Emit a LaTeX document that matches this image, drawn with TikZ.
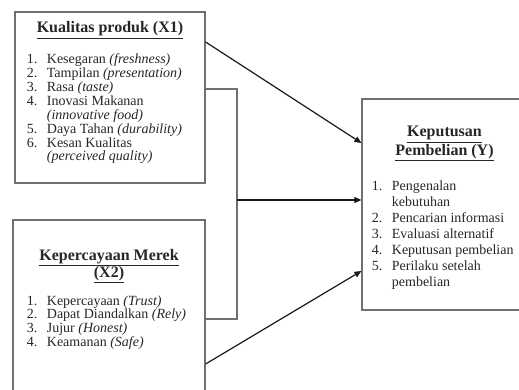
\documentclass[tikz,border=0pt]{standalone}
\usepackage{fontspec}
\setmainfont{Liberation Serif}
\usetikzlibrary{arrows.meta}
\definecolor{boxgray}{HTML}{707070}
\definecolor{txt}{HTML}{262626}
\newcommand{\num}[1]{\makebox[20pt][l]{#1}}
\tikzset{
  box/.style={draw=boxgray, line width=1.2pt, inner sep=0pt},
  link/.style={draw=boxgray, line width=1.2pt},
  arr/.style={draw=black!90, line width=1.2pt, -{Triangle[length=7pt,width=6pt]}},
  head/.style={anchor=base, font=\fontsize{16}{17}\selectfont\bfseries, text=txt, inner sep=0pt},
  items/.style={anchor=base west, text=txt, inner sep=0pt}
}
\begin{document}
\begin{tikzpicture}[x=1pt,y=-1pt]
                \useasboundingbox (0,0) rectangle (519,390);
                \clip (0,0) rectangle (519,390);

                \node[box, minimum width=190pt, minimum height=171pt] (kp) at (110,97.5) {};
                \node[box, minimum width=192pt, minimum height=200pt] (km) at (109,320) {};
                \node[box, minimum width=178pt, minimum height=211pt] (kb) at (451,204.5) {};

                \node[head] (kptitle) at (110,33) {\underline{Kualitas produk (X1)}};
                \node[items, font=\fontsize{14}{13.9}\selectfont] (kplist) at (26.7,63.5) {\begin{tabular}[t]{@{}l@{}}
                    \num{1.}Kesegaran \textit{(freshness)}\\
                    \num{2.}Tampilan \textit{(presentation)}\\
                    \num{3.}Rasa \textit{(taste)}\\
                    \num{4.}Inovasi Makanan\\
                    \num{}\textit{(innovative food)}\\
                    \num{5.}Daya Tahan \textit{(durability)}\\
                    \num{6.}Kesan Kualitas\\
                    \num{}\textit{(perceived quality)}
                \end{tabular}};

                \node[head] (kmtitle) at (109,260) {\begin{tabular}[t]{@{}c@{}}\underline{Kepercayaan Merek}\\ \underline{(X2)}\end{tabular}};
                \node[items, font=\fontsize{14}{13.3}\selectfont] (kmlist) at (26.7,305) {\begin{tabular}[t]{@{}l@{}}
                    \num{1.}Kepercayaan \textit{(Trust)}\\
                    \num{2.}Dapat Diandalkan \textit{(Rely)}\\
                    \num{3.}Jujur \textit{(Honest)}\\
                    \num{4.}Keamanan \textit{(Safe)}
                \end{tabular}};

                \node[head, font=\fontsize{16}{18}\selectfont\bfseries] (kbtitle) at (444.5,137) {\begin{tabular}[t]{@{}c@{}}\underline{Keputusan}\\ \underline{Pembelian (Y)}\end{tabular}};
                \node[items, font=\fontsize{14}{16.1}\selectfont] (kblist) at (371.7,190) {\begin{tabular}[t]{@{}l@{}}
                    \num{1.}Pengenalan\\
                    \num{}kebutuhan\\
                    \num{2.}Pencarian informasi\\
                    \num{3.}Evaluasi alternatif\\
                    \num{4.}Keputusan pembelian\\
                    \num{5.}Perilaku setelah\\
                    \num{}pembelian
                \end{tabular}};

                \coordinate (fork) at (237,200);
                \draw[link] (kp.east |- 0,89) -| (fork) |- (km.east |- 0,319);
                \draw[arr] (kp.east |- 0,42) -- (kb.west |- 0,143);
                \draw[arr] (fork) -- (kb.west |- fork);
                \draw[arr] (km.east |- 0,364) -- (kb.west |- 0,271);
\end{tikzpicture}
\end{document}
